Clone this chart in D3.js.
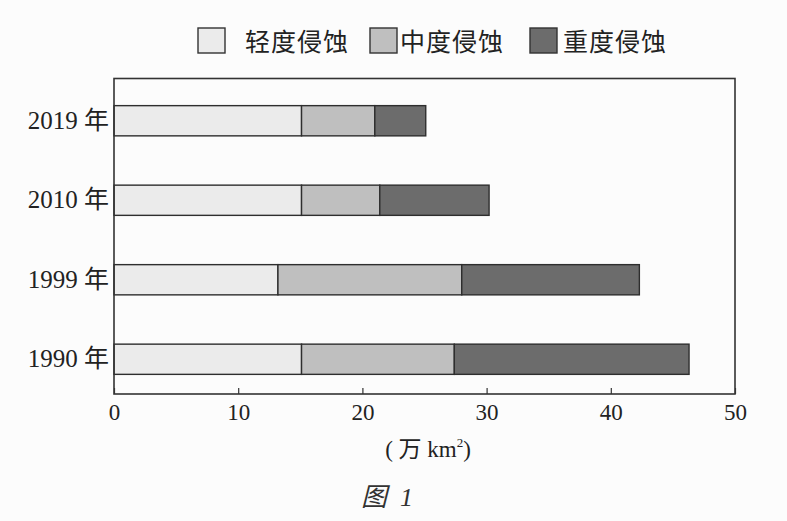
<!DOCTYPE html>
<html><head><meta charset="utf-8">
<script src="https://cdn.jsdelivr.net/npm/d3@7"></script>
<style>html,body{margin:0;padding:0;background:#fcfcfc;}svg{display:block;}</style>
</head><body>
<script>
const years = ["2019 年", "2010 年", "1999 年", "1990 年"];
const seriesNames = ["轻度侵蚀", "中度侵蚀", "重度侵蚀"];
const light = [15.1, 15.1, 13.2, 15.1];
const medium = [5.9, 6.3, 14.8, 12.3];
const heavy = [4.1, 8.8, 14.3, 18.9];
const xTicks = [0, 10, 20, 30, 40, 50];
const colors = ["#ebebeb", "#bfbfbf", "#6c6c6c"];

(function () {
const W = 787, H = 521;
const svg = d3.select("body").append("svg").attr("width", W).attr("height", H);
const serif = "'Liberation Serif','Times New Roman','Noto Sans CJK SC',serif";
const cjk = "'Noto Sans CJK SC',sans-serif";

const pL = 114, pR = 735, pT = 78.5, pB = 394;
const x = d3.scaleLinear().domain([0, 50]).range([pL, pR]);
const y = d3.scaleBand().domain(years).range([81, 399]).paddingInner(0.62).paddingOuter(0.31);

const rows = years.map((yr, i) => ({ yr, vals: [light[i], medium[i], heavy[i]] }));
const stacked = d3.stack().keys([0, 1, 2]).value((d, k) => d.vals[k])(rows);

stacked.forEach((layer, k) => {
  svg.append("g").selectAll("rect").data(layer).join("rect")
    .attr("x", d => x(d[0]))
    .attr("y", d => y(d.data.yr))
    .attr("width", d => x(d[1]) - x(d[0]))
    .attr("height", y.bandwidth())
    .attr("fill", colors[k])
    .attr("stroke", "#2e2e2e").attr("stroke-width", 1.4);
});

svg.append("rect").attr("x", pL).attr("y", pT).attr("width", pR - pL).attr("height", pB - pT)
  .attr("fill", "none").attr("stroke", "#333").attr("stroke-width", 1.6);

const xAxis = d3.axisBottom(x).tickValues(xTicks).tickSize(-6).tickPadding(10).tickFormat(d3.format("d"));
const gx = svg.append("g").attr("transform", `translate(0,${pB})`).call(xAxis);
gx.select(".domain").remove();
gx.selectAll(".tick line").attr("stroke", "#333").attr("stroke-width", 1.2);
gx.selectAll(".tick text").attr("font-family", serif).attr("font-size", 23).attr("fill", "#222");

const yAxis = d3.axisLeft(y).tickSize(0).tickPadding(5);
const gy = svg.append("g").attr("transform", `translate(${pL},0)`).call(yAxis);
gy.select(".domain").remove();
gy.selectAll(".tick text").attr("font-family", serif).attr("font-size", 25).attr("fill", "#222");

const t = svg.append("text").attr("x", 428).attr("y", 457).attr("text-anchor", "middle")
  .attr("font-family", serif).attr("font-size", 23).attr("fill", "#222");
t.append("tspan").text("( 万 km");
t.append("tspan").attr("font-size", 13).attr("dy", -10).text("2");
t.append("tspan").attr("dy", 10).text(")");

svg.append("text").attr("x", 387).attr("y", 506).attr("text-anchor", "middle")
  .attr("font-family", serif).attr("font-size", 26).attr("font-style", "italic").attr("fill", "#333")
  .attr("xml:space", "preserve").text("图  1");

const legendBox = [198, 370, 530];
const legendText = [245, 400, 563];
seriesNames.forEach((n, k) => {
  svg.append("rect").attr("x", legendBox[k]).attr("y", 28).attr("width", 27).attr("height", 25)
    .attr("fill", colors[k]).attr("stroke", "#333").attr("stroke-width", 1.4);
  svg.append("text").attr("x", legendText[k]).attr("y", 51).attr("font-family", cjk)
    .attr("font-size", 25).attr("letter-spacing", 1).attr("fill", "#222").text(n);
});
})();
</script>
</body></html>
